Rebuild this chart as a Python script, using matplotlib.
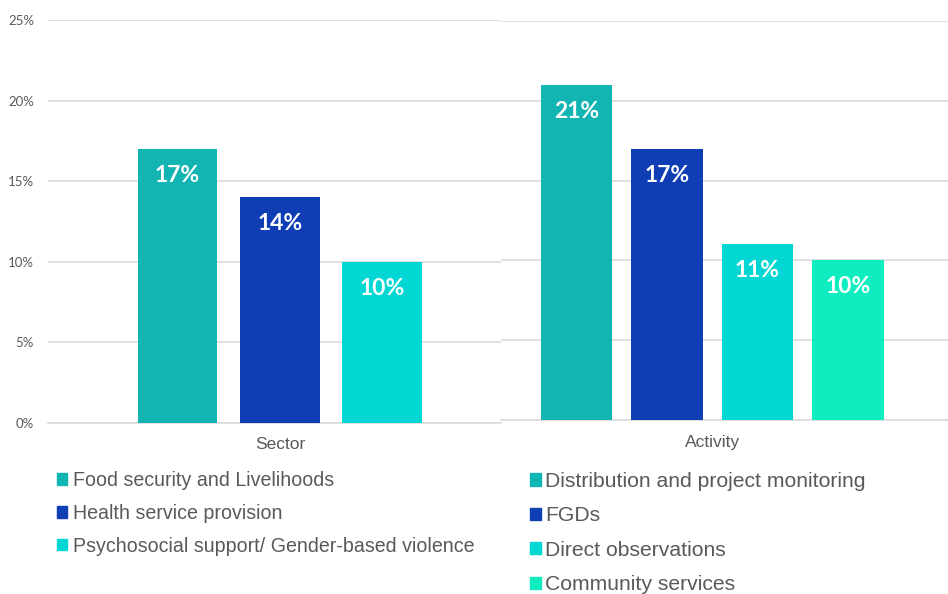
import matplotlib
matplotlib.use("Agg")
from matplotlib import pyplot as plt
from matplotlib.patches import Patch
from matplotlib.ticker import FuncFormatter

# sector breakdown
sector_labels = ["Food security and Livelihoods", "Health service provision",
                 "Psychosocial support/ Gender-based violence"]
sector_values = [17, 14, 10]

# activity breakdown
activity_labels = ["Distribution and project monitoring", "FGDs",
                   "Direct observations", "Community services"]
activity_values = [21, 17, 11, 10]

palette = ["#12B5B1", "#0F3DB4", "#02D7D4", "#0FEDC0"]
grey = "#595959"
grid = "#DADADA"

W, H = 948, 594
fig = plt.figure(figsize=(W / 100, H / 100), dpi=100)


def px_axes(x0, x1, y_top, y_bottom):
    return fig.add_axes([x0 / W, 1 - y_bottom / H, (x1 - x0) / W, (y_bottom - y_top) / H])


def draw_panel(ax, values, group, xlim, width, show_y, pad):
    xs = list(range(len(values)))
    bars = ax.bar(xs, values, width=width, color=palette[:len(values)], zorder=3)
    for b, v in zip(bars, values):
        ax.annotate(f"{v}%", (b.get_x() + b.get_width() / 2, v),
                    xytext=(0, -19), textcoords="offset points",
                    ha="center", va="center", color="white",
                    fontsize=16.5, fontweight="bold", family="Lato", zorder=4)
    ax.set_xlim(*xlim)
    ax.set_ylim(0, 25)
    ax.set_yticks([0, 5, 10, 15, 20, 25])
    ax.yaxis.set_major_formatter(FuncFormatter(lambda v, p: f"{v:.0f}%"))
    ax.grid(axis="y", color=grid, linewidth=1.2, zorder=0)
    for side in ["top", "right", "left"]:
        ax.spines[side].set_visible(False)
    ax.spines["bottom"].set_color(grid)
    ax.spines["bottom"].set_linewidth(1.2)
    ax.set_xticks([(len(values) - 1) / 2])
    ax.set_xticklabels([group], fontsize=12.5, color=grey, family="Liberation Sans")
    ax.tick_params(axis="x", length=0, pad=pad)
    ax.tick_params(axis="y", length=0, pad=10, labelsize=9.5, labelcolor=grey)
    for t in ax.get_yticklabels():
        t.set_family("Lato")
    if not show_y:
        ax.set_yticklabels([])
    return bars


ax1 = px_axes(48, 501, 20, 423)
draw_panel(ax1, sector_values, "Sector", (-1.265, 3.16), 0.78, True, 10)

ax2 = px_axes(501, 948, 21, 420)
draw_panel(ax2, activity_values, "Activity", (-0.834, 4.105), 0.785, False, 11)

h1 = [Patch(color=c) for c in palette[:3]]
fig.legend(h1, sector_labels, loc="upper left",
           bbox_to_anchor=(57 / W, 1 - 471 / H), frameon=False,
           prop={"family": "Liberation Sans", "size": 14.1},
           handlelength=0.5, handleheight=0.5,
           handletextpad=0.32, labelspacing=0.71, borderpad=0,
           borderaxespad=0, labelcolor=grey)

h2 = [Patch(color=c) for c in palette]
fig.legend(h2, activity_labels, loc="upper left",
           bbox_to_anchor=(530 / W, 1 - 472 / H), frameon=False,
           prop={"family": "Liberation Sans", "size": 15.2},
           handlelength=0.5, handleheight=0.5,
           handletextpad=0.2, labelspacing=0.73, borderpad=0,
           borderaxespad=0, labelcolor=grey)

fig.savefig("out.png", dpi=100)
